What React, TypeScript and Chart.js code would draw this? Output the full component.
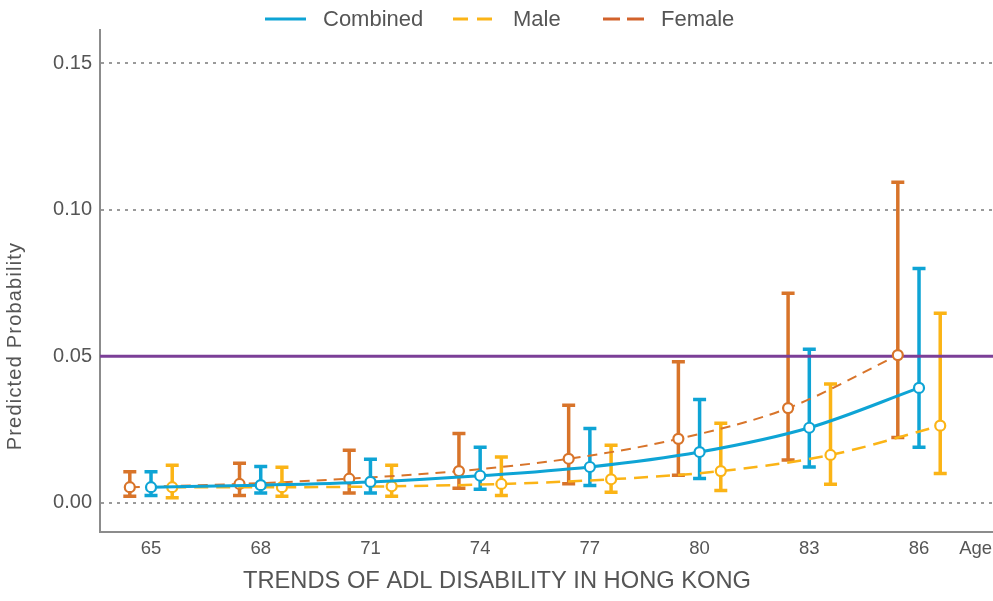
import React, { useEffect, useRef } from 'react';
import { Chart, registerables } from 'chart.js';

Chart.register(...registerables);

// ---- Data ----
const ages = [65, 68, 71, 74, 77, 80, 83, 86];
const xTickLabels = ['65', '68', '71', '74', '77', '80', '83', '86'];
const axisUnitLabel = 'Age';
const ageLabelPos = 87.55;
const yTickValues = [0, 0.05, 0.1, 0.15];
const threshold = 0.05;

const combinedMid = [0.0053, 0.006, 0.0071, 0.0092, 0.0122, 0.0173, 0.0256, 0.0392];
const combinedLow = [0.0025, 0.0033, 0.0033, 0.0046, 0.0059, 0.0083, 0.0122, 0.0189];
const combinedHigh = [0.0106, 0.0124, 0.0148, 0.0189, 0.0253, 0.0352, 0.0524, 0.08];

const maleMid = [0.0053, 0.0053, 0.0056, 0.0064, 0.008, 0.0108, 0.0163, 0.0263];
const maleLow = [0.0017, 0.0022, 0.0022, 0.0025, 0.0036, 0.0042, 0.0063, 0.01];
const maleHigh = [0.0128, 0.0121, 0.0128, 0.0156, 0.0196, 0.0271, 0.0405, 0.0647];

const femaleMid = [0.0053, 0.0064, 0.0082, 0.0108, 0.015, 0.0218, 0.0323, 0.0504];
const femaleLow = [0.0022, 0.0025, 0.0033, 0.0049, 0.0065, 0.0094, 0.0146, 0.0223];
const femaleHigh = [0.0106, 0.0135, 0.0179, 0.0236, 0.0333, 0.0481, 0.0715, 0.1094];

const groupOffset = 0.58;
const xMin = 63.605;
const xMax = 88.023;

// ---- Styles ----
const BLUE = '#0ea4d5';
const YELLOW = '#fbb416';
const ORANGE = '#d8742a';
const ORANGE_LEG = '#d2622b';
const PURPLE = '#7b3f97';
const TEXT = '#555555';
const FONT = "'Liberation Sans', Arial, Helvetica, sans-serif";

const errorBarPlugin = {
  id: 'errorBars',
  beforeDatasetsDraw(chart: any) {
    const { ctx, scales } = chart;
    const x = scales.x;
    const y = scales.y;
    const dsList = chart.data.datasets.slice().reverse();
    dsList.forEach((ds: any) => {
      if (!ds.errLow) return;
      ctx.save();
      ctx.strokeStyle = ds.borderColor;
      ctx.lineWidth = 3.5;
      ctx.setLineDash([]);
      ds.data.forEach((pt: any, i: number) => {
        const px = x.getPixelForValue(pt.x);
        const top = y.getPixelForValue(ds.errHigh[i]);
        const bot = y.getPixelForValue(ds.errLow[i]);
        ctx.beginPath();
        ctx.moveTo(px, top);
        ctx.lineTo(px, bot);
        ctx.moveTo(px - 6.5, top);
        ctx.lineTo(px + 6.5, top);
        ctx.moveTo(px - 6.5, bot);
        ctx.lineTo(px + 6.5, bot);
        ctx.stroke();
      });
      ctx.restore();
    });
  },
};

const textPlugin = {
  id: 'customText',
  afterDraw(chart: any) {
    const { ctx, scales } = chart;
    ctx.save();
    // legend
    const items = [
      { label: 'Combined', color: BLUE, dash: [], x0: 265, x1: 306, tx: 323 },
      { label: 'Male', color: YELLOW, dash: [15, 9], x0: 453, x1: 494, tx: 513 },
      { label: 'Female', color: ORANGE_LEG, dash: [17, 7], x0: 603, x1: 644, tx: 661 },
    ];
    const ly = 19;
    items.forEach((it) => {
      ctx.strokeStyle = it.color;
      ctx.lineWidth = 3;
      ctx.setLineDash(it.dash);
      ctx.beginPath();
      ctx.moveTo(it.x0, ly);
      ctx.lineTo(it.x1, ly);
      ctx.stroke();
      ctx.setLineDash([]);
      ctx.fillStyle = TEXT;
      ctx.font = `22px ${FONT}`;
      ctx.textAlign = 'left';
      ctx.textBaseline = 'middle';
      ctx.fillText(it.label, it.tx, ly + 1);
    });
    // axis unit label at the end of the x axis
    ctx.fillStyle = TEXT;
    ctx.font = `18.5px ${FONT}`;
    ctx.textAlign = 'center';
    ctx.textBaseline = 'middle';
    ctx.fillText(axisUnitLabel, scales.x.getPixelForValue(ageLabelPos), 549);
    // y title
    ctx.save();
    ctx.translate(15, 346);
    ctx.rotate(-Math.PI / 2);
    ctx.fillStyle = TEXT;
    ctx.font = `20px ${FONT}`;
    try { (ctx as any).letterSpacing = '1.2px'; } catch (e) {}
    ctx.textAlign = 'center';
    ctx.textBaseline = 'middle';
    ctx.fillText('Predicted Probability', 0, 0);
    ctx.restore();
    // x title
    ctx.fillStyle = TEXT;
    ctx.font = `23.7px ${FONT}`;
    ctx.textAlign = 'center';
    ctx.textBaseline = 'alphabetic';
    ctx.fillText('TRENDS OF ADL DISABILITY IN HONG KONG', 497, 588);
    ctx.restore();
  },
};

function seriesPoints(mid: number[], offset: number) {
  return ages.map((a, i) => ({ x: a + offset, y: mid[i] }));
}

export default function App() {
  const ref = useRef<HTMLCanvasElement | null>(null);

  useEffect(() => {
    if (!ref.current) return;
    const pointCommon = {
      pointRadius: 5,
      pointHoverRadius: 5,
      pointBackgroundColor: '#ffffff',
      pointBorderWidth: 2.2,
      cubicInterpolationMode: 'monotone',
      fill: false,
    };
    const chart = new Chart(ref.current, {
      type: 'line',
      data: {
        datasets: [
          {
            label: 'Combined',
            data: seriesPoints(combinedMid, 0),
            borderColor: BLUE,
            pointBorderColor: BLUE,
            borderWidth: 3,
            errLow: combinedLow,
            errHigh: combinedHigh,
            ...pointCommon,
          } as any,
          {
            label: 'Male',
            data: seriesPoints(maleMid, groupOffset),
            borderColor: YELLOW,
            pointBorderColor: YELLOW,
            borderWidth: 2.5,
            borderDash: [14, 8],
            errLow: maleLow,
            errHigh: maleHigh,
            ...pointCommon,
          } as any,
          {
            label: 'Female',
            data: seriesPoints(femaleMid, -groupOffset),
            borderColor: ORANGE,
            pointBorderColor: ORANGE,
            borderWidth: 2,
            borderDash: [10, 7],
            errLow: femaleLow,
            errHigh: femaleHigh,
            ...pointCommon,
          } as any,
          {
            label: 'Threshold',
            data: [
              { x: xMin, y: threshold },
              { x: xMax, y: threshold },
            ],
            borderColor: PURPLE,
            borderWidth: 3,
            pointRadius: 0,
            fill: false,
          },
        ],
      },
      options: {
        animation: false,
        responsive: false,
        layout: { autoPadding: false, padding: { top: 30, left: 0, right: 0, bottom: 0 } },
        plugins: {
          legend: { display: false },
          tooltip: { enabled: false },
          title: { display: false },
        },
        scales: {
          x: {
            type: 'linear',
            min: xMin,
            max: xMax,
            grid: { display: false, drawTicks: false },
            border: { display: true, color: '#8c8c8c', width: 2 },
            afterBuildTicks: (scale: any) => {
              scale.ticks = ages.map((v) => ({ value: v }));
            },
            afterFit: (scale: any) => {
              scale.height = 69;
              scale.paddingLeft = 0;
              scale.paddingRight = 0;
            },
            ticks: {
              autoSkip: false,
              maxRotation: 0,
              padding: 6,
              color: TEXT,
              font: { size: 18.5, family: FONT },
              callback: (_v: any, i: number) => xTickLabels[i],
            },
          },
          y: {
            type: 'linear',
            min: -0.01,
            max: 0.1614,
            grid: { color: '#9a9a9a', lineWidth: 2, drawTicks: false },
            border: { display: true, color: '#8c8c8c', width: 2, dash: [3, 5] },
            afterBuildTicks: (scale: any) => {
              scale.ticks = yTickValues.map((v) => ({ value: v }));
            },
            afterFit: (scale: any) => {
              scale.width = 100;
              scale.paddingTop = 0;
              scale.paddingBottom = 0;
            },
            ticks: {
              padding: 8,
              color: TEXT,
              font: { size: 20, family: FONT },
              callback: (v: any) => Number(v).toFixed(2),
            },
          },
        },
      },
      plugins: [errorBarPlugin, textPlugin],
    } as any);
    return () => chart.destroy();
  }, []);

  return (
    <div style={{ position: 'fixed', left: 0, top: 0, width: 993, height: 601, background: '#fff' }}>
      <canvas ref={ref} width={993} height={601} style={{ display: 'block' }} />
    </div>
  );
}
